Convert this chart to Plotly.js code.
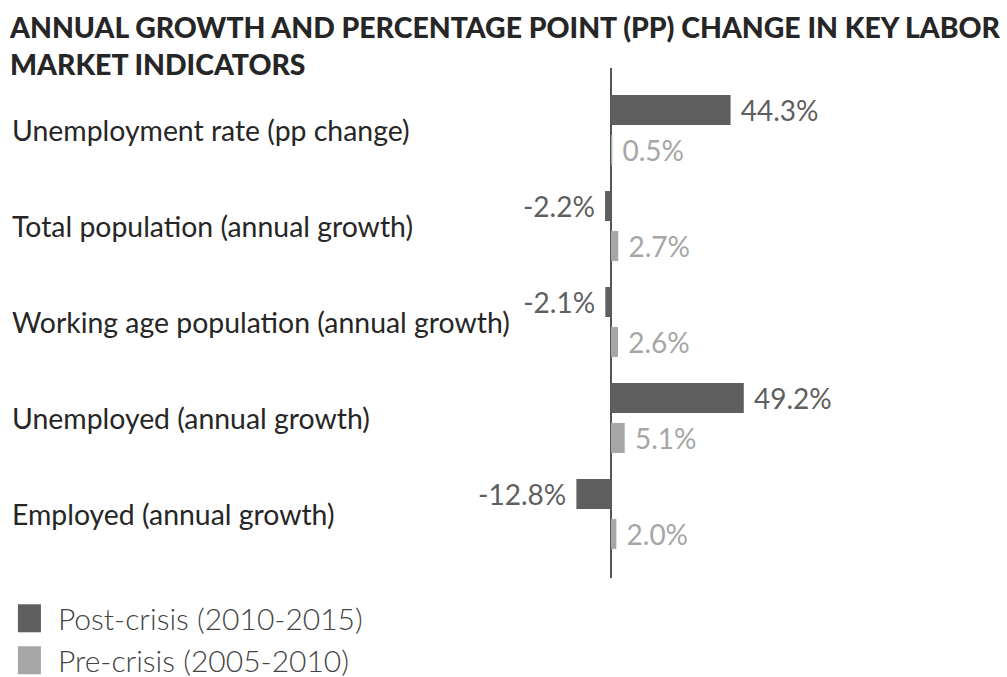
<!DOCTYPE html>
<html>
<head>
<meta charset="utf-8">
<script src="https://cdn.plot.ly/plotly-3.0.1.min.js"></script>
<style>html,body{margin:0;padding:0;background:#fff;}#chart{width:1007px;height:677px;}</style>
</head>
<body>
<div id="chart"></div>
<script>
const categories = [
  "Unemployment rate (pp change)",
  "Total population (annual growth)",
  "Working age population (annual growth)",
  "Unemployed (annual growth)",
  "Employed (annual growth)"
];
const seriesNames = ["Post-crisis (2010-2015)", "Pre-crisis (2005-2010)"];
const postCrisis = [44.3, -2.2, -2.1, 49.2, -12.8];
const preCrisis = [0.5, 2.7, 2.6, 5.1, 2.0];
const colors = ["#5f5f5f", "#a6a6a6"];
const titleText = "ANNUAL GROWTH AND PERCENTAGE POINT (PP) CHANGE IN KEY LABOR<br>MARKET INDICATORS";

function tmpl(vals) {
  return vals.map(v => v >= 0 ? "\u00a0%{x:.1f}%" : "%{x:.1f}%\u00a0");
}

const traces = [postCrisis, preCrisis].map((vals, i) => ({
  type: "bar",
  orientation: "h",
  name: seriesNames[i],
  x: vals,
  y: categories,
  marker: {color: colors[i]},
  texttemplate: tmpl(vals),
  textposition: "outside",
  constraintext: "none",
  cliponaxis: false,
  outsidetextfont: {family: "Lato", size: 28, color: colors[i]},
  hoverinfo: "x+name"
}));

const annotations = categories.map(c => ({
  xref: "paper", yref: "y", x: 0, y: c, xanchor: "left", yanchor: "middle",
  text: c, showarrow: false,
  font: {family: "Lato", size: 28.4, color: "#262626"}
}));

const layout = {
  width: 1007, height: 677,
  margin: {l: 10, r: 7, t: 68, b: 99, pad: 0, autoexpand: false},
  paper_bgcolor: "#fff", plot_bgcolor: "#fff",
  title: {
    text: titleText, x: 10/1007, xanchor: "left", xref: "container",
    y: 0.944, yanchor: "top", yref: "container",
    font: {family: "Lato", size: 28.4, weight: 900, color: "#262626"}
  },
  barmode: "group", bargap: 0.167, bargroupgap: 0.25,
  xaxis: {range: [-222.6, 144.1], showgrid: false, showticklabels: false, ticks: "",
          zeroline: true, zerolinecolor: "#555", zerolinewidth: 1.5, fixedrange: true},
  yaxis: {type: "category", categoryarray: categories, range: [4.667, -0.646],
          showgrid: false, showticklabels: false, ticks: "", zeroline: false, fixedrange: true},
  showlegend: true,
  legend: {x: 0.008, xanchor: "left", y: -0.028, yanchor: "top", orientation: "v",
           traceorder: "normal", font: {family: "Lato", size: 30, weight: 300, color: "#444"},
           bgcolor: "rgba(0,0,0,0)", itemclick: false, itemdoubleclick: false},
  annotations: annotations
};

Plotly.newPlot("chart", traces, layout, {displayModeBar: false, staticPlot: true}).then(gd => {
  const NS = "http://www.w3.org/2000/svg";
  gd.querySelectorAll(".legend g.traces").forEach((g, i) => {
    const pts = g.querySelector(".legendpoints");
    if (pts) pts.style.display = "none";
    const txt = g.querySelector("text");
    const tx = txt ? parseFloat(txt.getAttribute("x")) || 40 : 40;
    const r = document.createElementNS(NS, "rect");
    r.setAttribute("x", tx - 45);
    r.setAttribute("y", -14);
    r.setAttribute("width", 28);
    r.setAttribute("height", 28);
    r.setAttribute("fill", colors[i]);
    g.insertBefore(r, g.firstChild);
  });
});
</script>
</body>
</html>
